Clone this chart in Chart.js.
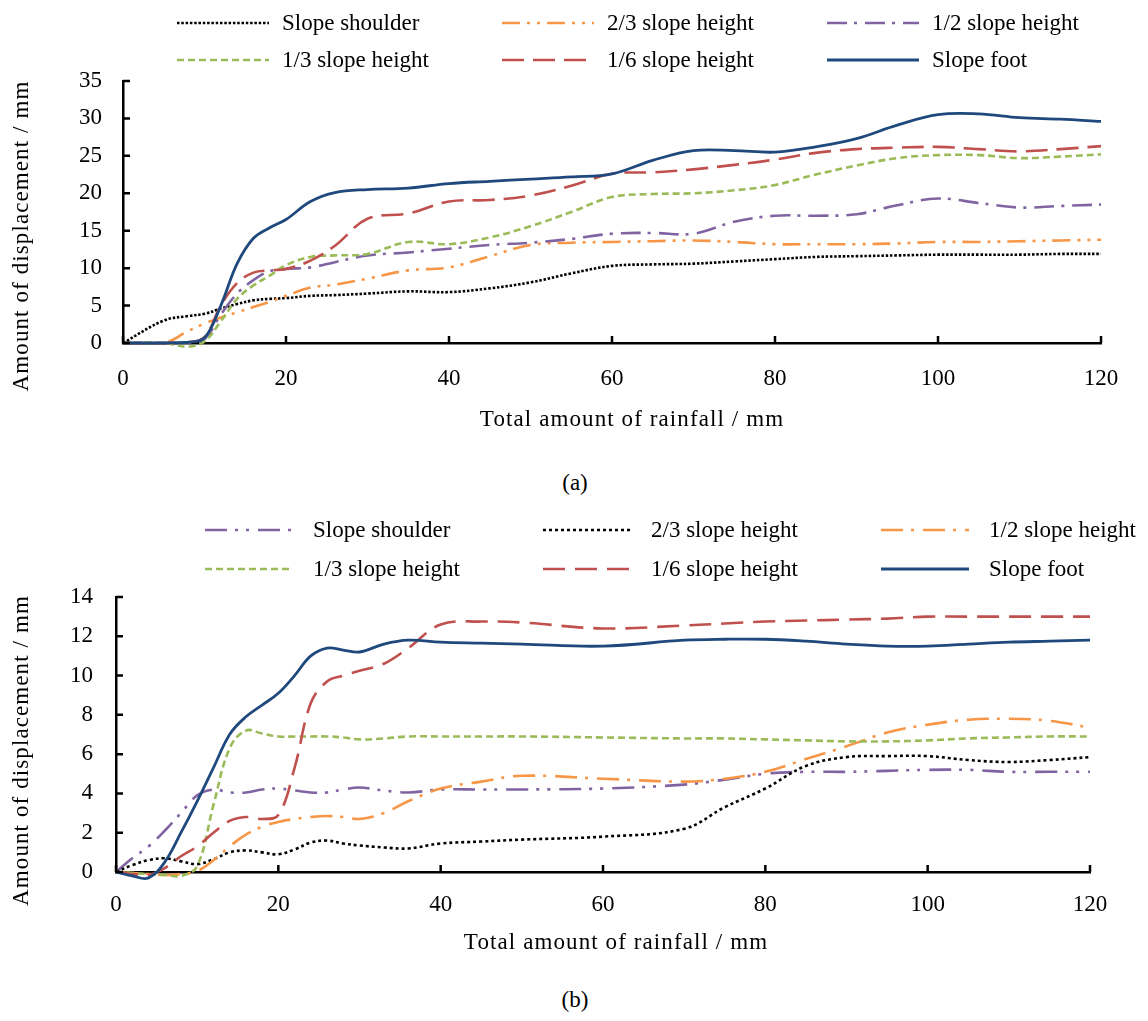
<!DOCTYPE html>
<html>
<head>
<meta charset="utf-8">
<title>Displacement vs rainfall</title>
<script src="https://cdn.jsdelivr.net/npm/chart.js@4.4.1/dist/chart.umd.min.js"></script>
<style>
  html, body { margin: 0; padding: 0; background: #ffffff; }
  body { width: 1148px; height: 1021px; position: relative; overflow: hidden;
         font-family: "Liberation Serif", "Times New Roman", serif; color: #000; }
  .panel { position: absolute; left: 0; width: 1148px; }
  #panelA { top: 0; height: 450px; }
  #panelB { top: 490px; height: 480px; }
  .caption { position: absolute; left: 0; width: 1150px; text-align: center;
             font-size: 23px; line-height: 28px; }
  #capA { top: 469px; }
  #capB { top: 986px; }
</style>
</head>
<body>
<div class="panel" id="panelA"><canvas id="chartA" width="1148" height="450"></canvas></div>
<div class="caption" id="capA">(a)</div>
<div class="panel" id="panelB"><canvas id="chartB" width="1148" height="480"></canvas></div>
<div class="caption" id="capB">(b)</div>

<script>
// ---------- (a) ----------
const rainA = [0, 5, 8, 10, 12, 14, 16, 18, 20, 23, 26, 30, 35, 40, 45, 50, 55, 60, 65, 70, 75, 80, 85, 90, 95, 100, 105, 110, 115, 120];
const namesA = ['Slope shoulder', '2/3 slope height', '1/2 slope height', '1/3 slope height', '1/6 slope height', 'Slope foot'];
const shoulderA = [0, 3.0, 3.6, 3.9, 4.6, 5.2, 5.7, 5.9, 6.0, 6.3, 6.4, 6.6, 6.9, 6.8, 7.3, 8.1, 9.3, 10.3, 10.5, 10.6, 10.9, 11.2, 11.5, 11.6, 11.7, 11.8, 11.8, 11.8, 11.9, 11.9];
const twoThirdA = [0, 0, 1.6, 2.6, 3.4, 4.1, 4.8, 5.5, 6.3, 7.4, 7.8, 8.6, 9.7, 10.1, 11.6, 13.1, 13.4, 13.5, 13.6, 13.7, 13.5, 13.2, 13.2, 13.2, 13.3, 13.5, 13.5, 13.6, 13.7, 13.8];
const halfA = [0, 0, 0, 0.5, 3.8, 6.6, 8.4, 9.6, 9.9, 10.1, 10.8, 11.7, 12.1, 12.6, 13.1, 13.4, 13.9, 14.6, 14.7, 14.6, 16.2, 17.0, 17.0, 17.2, 18.4, 19.3, 18.7, 18.1, 18.3, 18.5];
const oneThirdA = [0, 0, -0.5, 0.2, 2.9, 5.9, 7.7, 9.0, 10.4, 11.5, 11.7, 11.9, 13.5, 13.2, 14.1, 15.6, 17.5, 19.5, 19.9, 20.0, 20.4, 21.1, 22.5, 23.7, 24.7, 25.1, 25.1, 24.7, 24.9, 25.2];
const oneSixthA = [0, 0, 0.1, 0.8, 5.0, 8.0, 9.4, 9.7, 9.9, 11.0, 13.0, 16.6, 17.3, 18.9, 19.1, 19.7, 21.0, 22.6, 22.8, 23.2, 23.8, 24.5, 25.4, 25.9, 26.1, 26.2, 25.9, 25.6, 25.9, 26.3];
const footA = [0, 0, 0.1, 0.7, 5.0, 10.6, 14.0, 15.4, 16.5, 18.9, 20.1, 20.5, 20.7, 21.3, 21.6, 21.9, 22.2, 22.6, 24.4, 25.7, 25.7, 25.5, 26.2, 27.3, 29.1, 30.5, 30.6, 30.1, 29.9, 29.6];
const xTicksA = [0, 20, 40, 60, 80, 100, 120];
const yTicksA = [0, 5, 10, 15, 20, 25, 30, 35];

// ---------- (b) ----------
const rainB = [0, 2, 4, 6, 8, 10, 12, 14, 16, 18, 20, 22, 24, 26, 28, 30, 33, 36, 40, 45, 50, 60, 70, 75, 80, 85, 90, 95, 100, 105, 110, 115, 120];
const namesB = ['Slope shoulder', '2/3 slope height', '1/2 slope height', '1/3 slope height', '1/6 slope height', 'Slope foot'];
const shoulderB = [0, 0.7, 1.3, 2.1, 3.0, 3.9, 4.2, 4.05, 4.05, 4.2, 4.25, 4.15, 4.05, 4.05, 4.2, 4.3, 4.15, 4.05, 4.2, 4.2, 4.2, 4.25, 4.45, 4.7, 5.0, 5.1, 5.1, 5.15, 5.2, 5.2, 5.1, 5.1, 5.1];
const twoThirdB = [0, 0.35, 0.6, 0.7, 0.55, 0.4, 0.65, 1.0, 1.1, 1.0, 0.9, 1.15, 1.5, 1.6, 1.45, 1.35, 1.25, 1.2, 1.45, 1.55, 1.65, 1.8, 2.2, 3.3, 4.25, 5.4, 5.85, 5.9, 5.9, 5.7, 5.6, 5.7, 5.85];
const halfB = [0, -0.05, -0.1, -0.15, -0.1, 0.05, 0.6, 1.3, 1.9, 2.3, 2.55, 2.7, 2.8, 2.85, 2.8, 2.7, 3.0, 3.6, 4.25, 4.6, 4.9, 4.75, 4.6, 4.75, 5.1, 5.75, 6.4, 7.1, 7.5, 7.75, 7.8, 7.7, 7.35];
const oneThirdB = [0, -0.05, -0.1, -0.15, -0.2, 0.3, 3.4, 6.3, 7.2, 7.05, 6.9, 6.9, 6.9, 6.9, 6.85, 6.75, 6.8, 6.9, 6.9, 6.9, 6.9, 6.85, 6.8, 6.8, 6.75, 6.7, 6.65, 6.65, 6.7, 6.8, 6.85, 6.9, 6.9];
const oneSixthB = [0, -0.1, -0.15, 0.2, 0.8, 1.3, 2.0, 2.6, 2.8, 2.7, 2.9, 5.3, 8.6, 9.7, 10.0, 10.25, 10.6, 11.4, 12.6, 12.75, 12.7, 12.4, 12.55, 12.65, 12.75, 12.8, 12.85, 12.9, 13.0, 13.0, 13.0, 13.0, 13.0];
const footB = [0, -0.2, -0.3, 0.5, 2.0, 3.6, 5.3, 7.0, 7.9, 8.5, 9.1, 10.0, 11.0, 11.4, 11.3, 11.2, 11.6, 11.8, 11.7, 11.65, 11.6, 11.5, 11.8, 11.85, 11.85, 11.75, 11.6, 11.5, 11.5, 11.6, 11.7, 11.75, 11.8];
const xTicksB = [0, 20, 40, 60, 80, 100, 120];
const yTicksB = [0, 2, 4, 6, 8, 10, 12, 14];

const xTitle = 'Total amount of rainfall / mm';
const yTitle = 'Amount of displacement / mm';

// ---------- shared styling ----------
const FONT = '"Liberation Serif", "Times New Roman", serif';
const C = {
  black: '#000000', orange: '#f79646', purple: '#8064a2',
  green: '#9bbb59', red: '#c0504d', blue: '#1f497d'
};

function pairs(xs, ys) { return xs.map((x, i) => ({ x: x, y: ys[i] })); }

function makeDatasets(xs, names, series, looks) {
  return series.map((ys, i) => ({
    label: names[i],
    data: pairs(xs, ys),
    borderColor: looks[i].color,
    borderWidth: looks[i].width || 2.6,
    borderDash: looks[i].dash,
    borderCapStyle: 'butt',
    tension: 0.38,
    pointRadius: 0,
    pointHoverRadius: 0,
    fill: false,
    clip: false,
    order: series.length - i
  }));
}

// legend drawn as three columns by two rows above the plot
const gridLegend = {
  id: 'gridLegend',
  afterDraw(chart, args, opts) {
    const ctx = chart.ctx;
    ctx.save();
    ctx.font = opts.fontSize + 'px ' + FONT;
    ctx.textBaseline = 'middle';
    ctx.fillStyle = '#000';
    chart.data.datasets.forEach((ds, i) => {
      const col = i % 3, row = Math.floor(i / 3);
      const x = opts.cols[col], y = opts.rows[row];
      ctx.beginPath();
      ctx.lineWidth = ds.borderWidth;
      ctx.strokeStyle = ds.borderColor;
      ctx.lineCap = 'butt';
      ctx.setLineDash(ds.borderDash || []);
      ctx.moveTo(x, y);
      ctx.lineTo(x + opts.lineLen, y);
      ctx.stroke();
      ctx.setLineDash([]);
      ctx.fillText(ds.label, x + opts.lineLen + opts.gap, y + 1);
    });
    ctx.restore();
  }
};

// axis titles, placed relative to the plot area
const axisTitles = {
  id: 'axisTitles',
  afterDraw(chart, args, opts) {
    const ctx = chart.ctx, a = chart.chartArea;
    ctx.save();
    ctx.font = opts.fontSize + 'px ' + FONT;
    if ('letterSpacing' in ctx) ctx.letterSpacing = opts.spacing + 'px';
    ctx.fillStyle = '#000';
    ctx.textAlign = 'center';
    ctx.textBaseline = 'middle';
    ctx.fillText(opts.x.text, (a.left + a.right) / 2 + opts.x.dx, opts.x.y);
    ctx.translate(opts.y.x, (a.top + a.bottom) / 2 + opts.y.dy);
    ctx.rotate(-Math.PI / 2);
    ctx.fillText(opts.y.text, 0, 0);
    ctx.restore();
  }
};

// short tick marks pointing into the plot area
const innerTicks = {
  id: 'innerTicks',
  afterDraw(chart, args, opts) {
    const ctx = chart.ctx, area = chart.chartArea;
    const xs = chart.scales.x, ys = chart.scales.y;
    ctx.save();
    ctx.strokeStyle = '#000';
    ctx.lineWidth = 2.5;
    ctx.beginPath();
    xs.ticks.forEach(t => {
      const px = xs.getPixelForValue(t.value);
      ctx.moveTo(px, area.bottom);
      ctx.lineTo(px, area.bottom - opts.len);
    });
    ys.ticks.forEach(t => {
      const py = ys.getPixelForValue(t.value);
      ctx.moveTo(area.left, py);
      ctx.lineTo(area.left + opts.len, py);
    });
    ctx.stroke();
    ctx.restore();
  }
};

function makeChart(canvasId, cfg) {
  const tickFont = { family: FONT, size: 23 };
  return new Chart(document.getElementById(canvasId), {
    type: 'line',
    data: { datasets: cfg.datasets },
    plugins: [gridLegend, axisTitles, innerTicks],
    options: {
      responsive: false,
      animation: false,
      events: [],
      layout: { padding: { top: cfg.top, right: cfg.right, bottom: 0, left: 0 } },
      plugins: {
        legend: { display: false },
        tooltip: { enabled: false },
        gridLegend: cfg.legend,
        axisTitles: cfg.titles,
        innerTicks: { len: 7 }
      },
      scales: {
        x: {
          type: 'linear', min: 0, max: 120,
          afterBuildTicks: s => { s.ticks = cfg.xTicks.map(v => ({ value: v })); },
          ticks: { font: tickFont, color: '#000', padding: cfg.xTickPad, maxRotation: 0, autoSkip: false },
          grid: { display: false, drawTicks: false },
          border: { display: true, color: '#000', width: 2.5 },
          afterFit: s => { s.height = cfg.xHeight; }
        },
        y: {
          type: 'linear', min: cfg.yTicks[0], max: cfg.yTicks[cfg.yTicks.length - 1],
          afterBuildTicks: s => { s.ticks = cfg.yTicks.map(v => ({ value: v })); },
          ticks: { font: tickFont, color: '#000', padding: cfg.yTickPad, autoSkip: false },
          grid: { display: false, drawTicks: false },
          border: { display: true, color: '#000', width: 2.5 },
          afterFit: s => { s.width = cfg.yWidth; }
        }
      }
    }
  });
}

makeChart('chartA', {
  datasets: makeDatasets(rainA, namesA,
    [shoulderA, twoThirdA, halfA, oneThirdA, oneSixthA, footA],
    [
      { color: C.black, dash: [2.5, 1.8] },
      { color: C.orange, dash: [18, 7, 3, 7, 3, 7] },
      { color: C.purple, dash: [20, 7, 3, 8] },
      { color: C.green, dash: [7, 4] },
      { color: C.red, dash: [22, 9] },
      { color: C.blue, dash: [], width: 2.8 }
    ]),
  xTicks: xTicksA, yTicks: yTicksA,
  top: 81, right: 47, xHeight: 107, yWidth: 123,
  xTickPad: 22, yTickPad: 21,
  titles: { fontSize: 23, spacing: 1.1,
            x: { text: xTitle, dx: 20, y: 420 },
            y: { text: yTitle, x: 22, dy: 24 } },
  legend: { cols: [177, 502, 827], rows: [23, 60], lineLen: 92, gap: 13, fontSize: 23 }
});

makeChart('chartB', {
  datasets: makeDatasets(rainB, namesB,
    [shoulderB, twoThirdB, halfB, oneThirdB, oneSixthB, footB],
    [
      { color: C.purple, dash: [22, 8, 3, 8, 3, 9] },
      { color: C.black, dash: [3, 3] },
      { color: C.orange, dash: [22, 8, 3, 9] },
      { color: C.green, dash: [7, 4] },
      { color: C.red, dash: [22, 10] },
      { color: C.blue, dash: [], width: 2.8 }
    ]),
  xTicks: xTicksB, yTicks: yTicksB,
  top: 107, right: 58, xHeight: 98, yWidth: 116,
  xTickPad: 19, yTickPad: 23,
  titles: { fontSize: 23, spacing: 1.1,
            x: { text: xTitle, dx: 13, y: 453 },
            y: { text: yTitle, x: 22, dy: 16 } },
  legend: { cols: [205, 543, 881], rows: [40, 79], lineLen: 88, gap: 20, fontSize: 23 }
});
</script>
</body>
</html>
